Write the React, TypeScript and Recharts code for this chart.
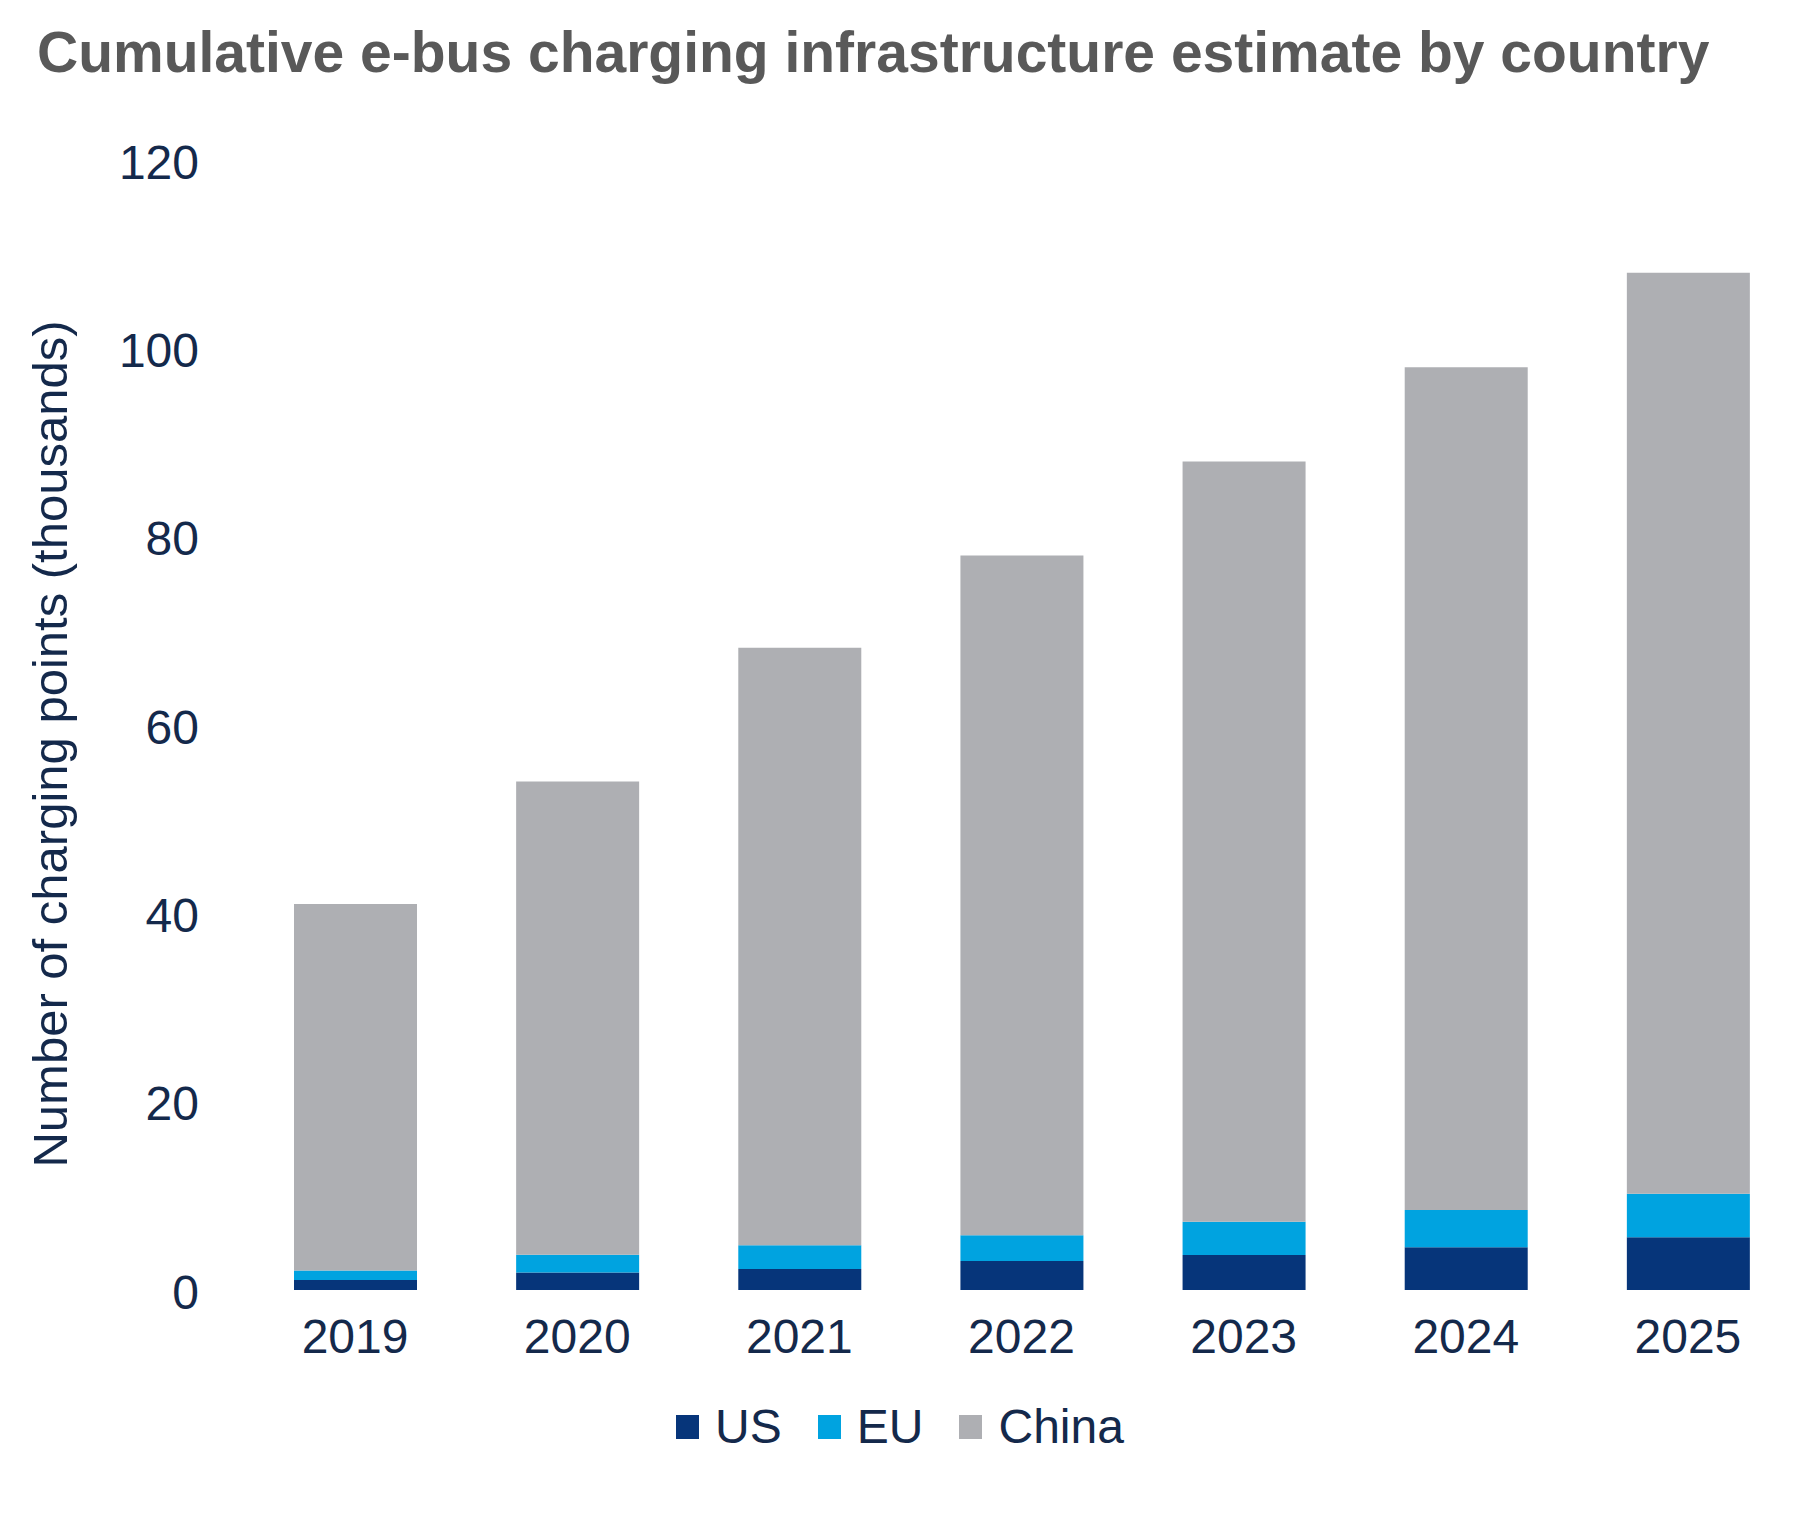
import React from "react";
import { BarChart, Bar, XAxis, YAxis, Legend } from "recharts";

const years = ["2019", "2020", "2021", "2022", "2023", "2024", "2025"];
const usValues = [1.06, 1.87, 2.24, 3.08, 3.72, 4.55, 5.6];
const euValues = [1.02, 1.88, 2.51, 2.73, 3.52, 3.94, 4.62];
const chinaValues = [38.9, 50.25, 63.45, 72.2, 80.75, 89.5, 97.8];
const yTicks = [0, 20, 40, 60, 80, 100, 120];

const data = years.map((year, i) => ({
  year,
  US: usValues[i],
  EU: euValues[i],
  China: chinaValues[i],
}));

const FONT = "'Liberation Sans', Arial, sans-serif";
const TEXT = "#14294b";

const series = [
  { key: "US", color: "#06357a" },
  { key: "EU", color: "#00a3e0" },
  { key: "China", color: "#aeafb3" },
];

const YTick = (props: any) => {
  const { x, y, payload } = props;
  return (
    <text x={x} y={y + 2} textAnchor="end" dominantBaseline="central" fontSize={48} fill={TEXT} fontFamily={FONT}>
      {payload.value}
    </text>
  );
};

const XTick = (props: any) => {
  const { x, y, payload } = props;
  return (
    <text x={x} y={y + 34} textAnchor="middle" fontSize={48} fill={TEXT} fontFamily={FONT}>
      {payload.value}
    </text>
  );
};

const AxisTitle = () => (
  <text
    x={50}
    y={744}
    transform="rotate(-90 50 744)"
    textAnchor="middle"
    dominantBaseline="central"
    fontSize={49}
    fill={TEXT}
    fontFamily={FONT}
  >
    Number of charging points (thousands)
  </text>
);

const LegendContent = () => (
  <div style={{ display: "flex", justifyContent: "center", alignItems: "center", width: 1800 }}>
    {series.map((s, i) => (
      <div key={s.key} style={{ display: "flex", alignItems: "center", marginLeft: i ? 36 : 0 }}>
        <span style={{ width: 23, height: 24, background: s.color, marginRight: 16, display: "inline-block" }} />
        <span style={{ fontSize: 48, color: TEXT, fontFamily: FONT, lineHeight: "48px" }}>{s.key}</span>
      </div>
    ))}
  </div>
);

export default function App() {
  return (
    <div style={{ position: "relative", width: 1800, height: 1538, margin: "-8px 0 0 -8px", overflow: "hidden", background: "#fff" }}>
      <div
        style={{
          position: "absolute",
          left: 37,
          top: 24,
          fontFamily: FONT,
          fontWeight: "bold",
          fontSize: 57,
          lineHeight: "57px",
          color: "#595959",
          whiteSpace: "nowrap",
        }}
      >
        Cumulative e-bus charging infrastructure estimate by country
      </div>
      <BarChart
        width={1800}
        height={1538}
        data={data}
        margin={{ top: 160, right: 1, bottom: 148, left: 0 }}
        barSize={123}
      >
        <XAxis dataKey="year" axisLine={false} tickLine={false} tickSize={0} tickMargin={29} height={100} tick={<XTick />} />
        <YAxis
          domain={[0, 120]}
          ticks={yTicks}
          axisLine={false}
          tickLine={false}
          tickSize={0}
          tickMargin={45}
          width={244}
          tick={<YTick />}
          label={{ content: <AxisTitle /> }}
        />
        <Legend
          layout="horizontal"
          verticalAlign="middle"
          align="center"
          wrapperStyle={{ top: 1403, left: 0, width: 1800 }}
          content={<LegendContent />}
        />
        {series.map((s) => (
          <Bar key={s.key} dataKey={s.key} stackId="a" fill={s.color} isAnimationActive={false} />
        ))}
      </BarChart>
    </div>
  );
}
